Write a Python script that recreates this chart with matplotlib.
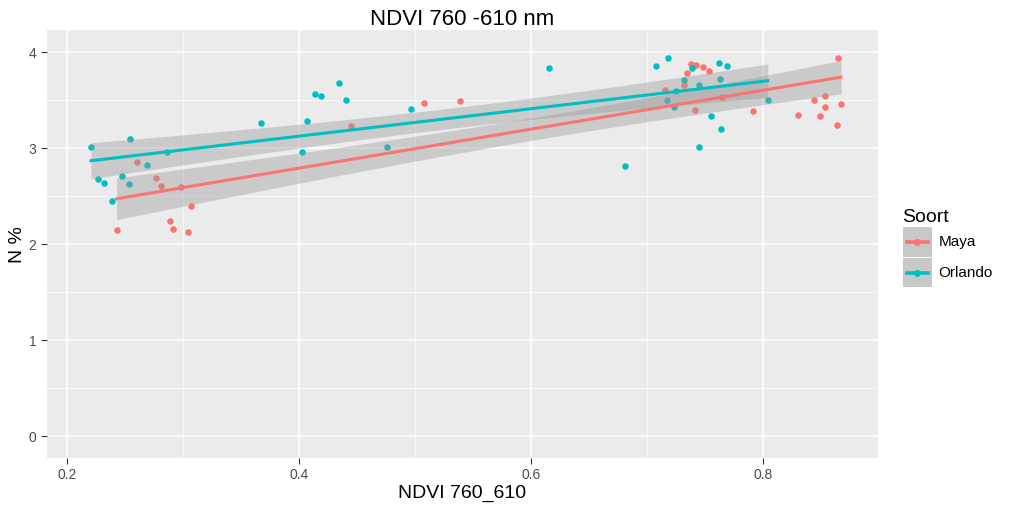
import numpy as np
import matplotlib.pyplot as plt
from matplotlib.patches import Rectangle
from matplotlib.lines import Line2D

plt.rcParams['font.family'] = ['Liberation Sans', 'DejaVu Sans']

# Maya
maya_x = [0.2606, 0.2764, 0.281, 0.298, 0.307, 0.2428, 0.289, 0.2917, 0.3046,
          0.445, 0.5075, 0.5385,
          0.7382, 0.7425, 0.7483, 0.7534, 0.7347, 0.7319, 0.7153, 0.7416, 0.7652,
          0.7914, 0.830, 0.8445, 0.854, 0.8534, 0.849, 0.8675, 0.8644, 0.8652]
maya_y = [2.86, 2.69, 2.61, 2.59, 2.40, 2.15, 2.24, 2.16, 2.13,
          3.23, 3.47, 3.49,
          3.88, 3.87, 3.85, 3.80, 3.78, 3.66, 3.61, 3.40, 3.53,
          3.39, 3.35, 3.50, 3.54, 3.43, 3.33, 3.46, 3.245, 3.94]

# Orlando
orl_x = [0.2207, 0.2546, 0.2267, 0.2316, 0.2474, 0.269, 0.2537, 0.239, 0.286,
         0.367, 0.4066, 0.4026,
         0.414, 0.419, 0.4348, 0.4408, 0.4968, 0.4759, 0.6158,
         0.7083, 0.7187, 0.7388, 0.7623, 0.769, 0.7325, 0.763, 0.745, 0.7256,
         0.7172, 0.7236, 0.7554, 0.7644, 0.7446, 0.6813, 0.8043]
orl_y = [3.01, 3.10, 2.68, 2.64, 2.71, 2.82, 2.625, 2.45, 2.955,
         3.26, 3.28, 2.955,
         3.56, 3.54, 3.68, 3.50, 3.41, 3.01, 3.83,
         3.86, 3.94, 3.84, 3.885, 3.86, 3.715, 3.725, 3.66, 3.60,
         3.50, 3.43, 3.33, 3.195, 3.01, 2.81, 3.50]

red = '#F8766D'
teal = '#00BFC4'

fig = plt.figure(figsize=(10.24, 5.12), dpi=100)
ax = fig.add_axes([0.0459, 0.1055, 0.8111, 0.8355])
ax.set_facecolor('#EBEBEB')


def smooth(x, y, color, t):
    x = np.array(x)
    y = np.array(y)
    n = len(x)
    b, a = np.polyfit(x, y, 1)
    xs = np.linspace(x.min(), x.max(), 80)
    ys = a + b * xs
    resid = y - (a + b * x)
    s = np.sqrt(np.sum(resid ** 2) / (n - 2))
    se = s * np.sqrt(1 / n + (xs - x.mean()) ** 2 / np.sum((x - x.mean()) ** 2))
    ax.fill_between(xs, ys - t * se, ys + t * se, color='#999999', alpha=0.4, lw=0, zorder=3)
    ax.plot(xs, ys, color=color, lw=2.2, zorder=4)


ax.scatter(maya_x, maya_y, s=22, color=red, zorder=2, linewidths=0)
ax.scatter(orl_x, orl_y, s=22, color=teal, zorder=2, linewidths=0)
smooth(maya_x, maya_y, red, 2.048)
smooth(orl_x, orl_y, teal, 2.035)

ax.set_xlim(0.1828, 0.899)
ax.set_ylim(-0.229, 4.229)
ax.set_xticks([0.2, 0.4, 0.6, 0.8])
ax.set_xticklabels(['0.2', '0.4', '0.6', '0.8'])
ax.set_yticks([0, 1, 2, 3, 4])
ax.set_xticks([0.3, 0.5, 0.7], minor=True)
ax.set_yticks([0.5, 1.5, 2.5, 3.5], minor=True)
ax.grid(which='major', color='white', lw=1.1, zorder=0)
ax.grid(which='minor', color='white', lw=0.5, zorder=0)
ax.set_axisbelow(True)
for sp in ax.spines.values():
    sp.set_visible(False)
ax.tick_params(which='major', colors='#333333', labelcolor='#4D4D4D', labelsize=10, length=4)
ax.tick_params(which='minor', length=0)

ax.set_title('NDVI 760 -610 nm', fontsize=16, pad=2)
ax.set_xlabel('NDVI 760_610', fontsize=14, labelpad=2)
ax.set_ylabel('N %', fontsize=14, labelpad=2)


# legend key: grey box with the line centred in it
class KeyHandler:
    def legend_artist(self, legend, orig_handle, fontsize, handlebox):
        x0, y0 = -handlebox.xdescent, -handlebox.ydescent
        w, h = handlebox.width, handlebox.height
        tr = handlebox.get_transform()
        rect = Rectangle((x0, y0), w, h, facecolor='#C8C8C8', edgecolor='none', transform=tr)
        line = Line2D([x0 + 3, x0 + w - 3], [y0 + h / 2] * 2, color=orig_handle.get_color(),
                      lw=2.6, transform=tr)
        dot = Line2D([x0 + w / 2], [y0 + h / 2], color=orig_handle.get_color(),
                     marker='o', ms=4, lw=0, transform=tr)
        handlebox.add_artist(rect)
        handlebox.add_artist(line)
        handlebox.add_artist(dot)
        return rect


h1 = Line2D([], [], color=red)
h2 = Line2D([], [], color=teal)
leg = fig.legend([h1, h2], ['Maya', 'Orlando'], title='Soort',
                 handler_map={Line2D: KeyHandler()},
                 loc='upper left', bbox_to_anchor=(0.868, 0.619), frameon=False,
                 fontsize=11, title_fontsize=14, handlelength=1.95, handleheight=2.6,
                 handletextpad=0.4, labelspacing=0.08, alignment='left')

fig.savefig('out.png', dpi=100)
